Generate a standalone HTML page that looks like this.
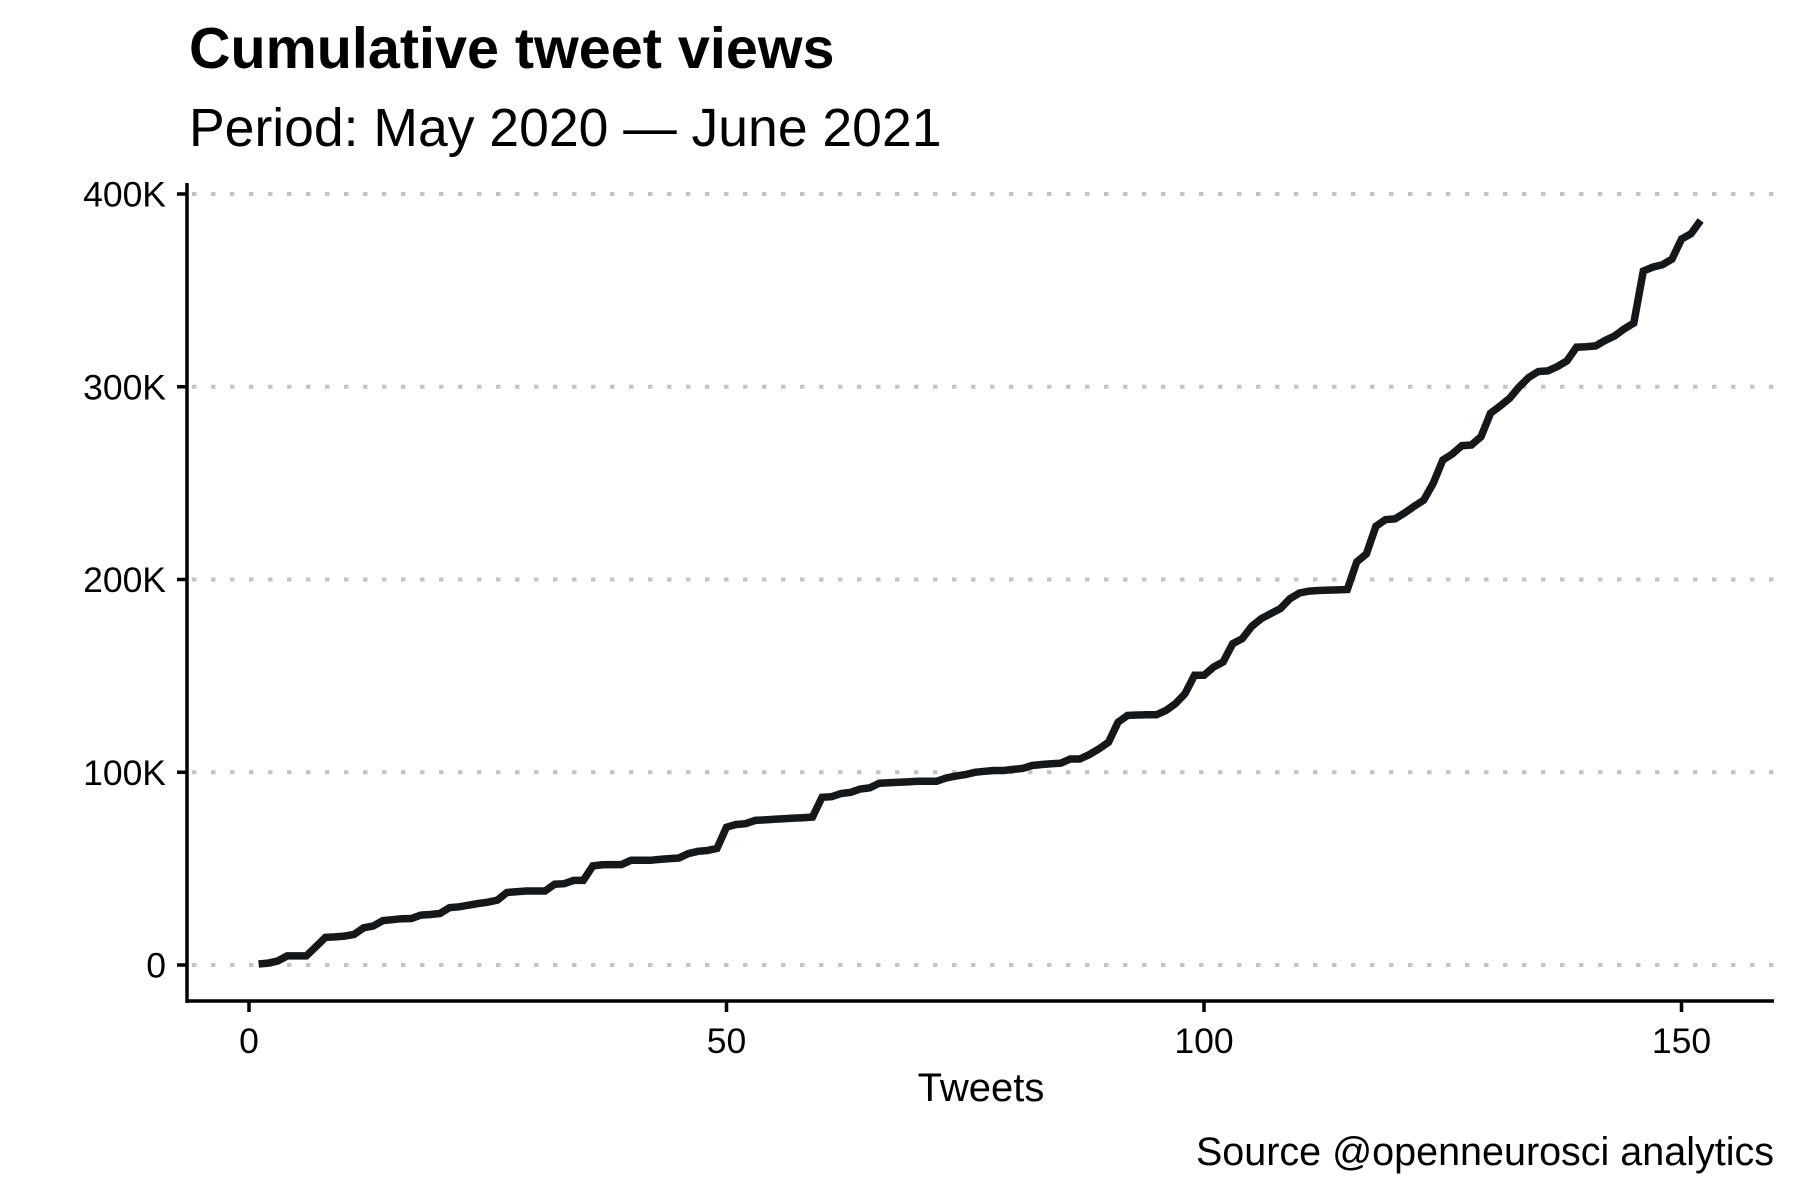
<!DOCTYPE html>
<html><head><meta charset="utf-8"><style>
html,body{margin:0;padding:0;background:#fff;}
svg{display:block;font-family:"Liberation Sans",Arial,sans-serif;}
</style></head><body>
<svg id="chart" width="1800" height="1200" viewBox="0 0 1800 1200" xmlns="http://www.w3.org/2000/svg">
<rect width="1800" height="1200" fill="#fff"/>
<text x="189" y="68" font-size="57.5" font-weight="bold" fill="#000">Cumulative tweet views</text>
<text x="189" y="146" font-size="53.5" fill="#000">Period: May 2020 — June 2021</text>
<g id="grid"></g>
<g id="axes"></g>
<g id="series"></g>
<text x="981" y="1101" font-size="40" text-anchor="middle" fill="#000">Tweets</text>
<text x="1774" y="1165" font-size="39.5" text-anchor="end" fill="#000">Source @openneurosci analytics</text>
</svg>
<script>
const yTicks = [0, 100, 200, 300, 400];
const yTickLabels = ["0", "100K", "200K", "300K", "400K"];
const xTicks = [0, 50, 100, 150];
const xTickLabels = ["0", "50", "100", "150"];
const views = [0.5,1,2,4.7,4.7,4.7,9.5,14.3,14.6,15,15.8,19.3,20.2,23,23.5,24,24.1,25.9,26.2,26.7,
29.8,30.2,31,31.9,32.6,33.6,37.6,38,38.4,38.4,38.4,41.9,42.2,43.9,43.9,51.4,52,52.1,52.1,54.3,
54.3,54.3,54.8,55.2,55.5,57.8,59,59.4,60.5,71.5,72.9,73.3,75,75.3,75.6,75.9,76.2,76.4,76.8,87,
87.3,89,89.6,91.3,91.9,94.3,94.6,94.8,95,95.3,95.3,95.3,97,98,98.8,100,100.5,100.9,100.9,101.5,
102,103.5,104,104.4,104.7,106.9,106.9,109.2,112.1,115.6,126,129.5,129.7,129.8,129.8,132,135.5,140.7,150.3,150.3,
154.6,157.2,166.7,169.3,175.7,179.7,182.3,184.9,190.1,193,194,194.3,194.5,194.6,194.8,209.2,213.3,227.6,231,231.5,
234.5,238,241.2,249.9,262,265.1,269.4,269.8,274.1,286.2,290,294,300,304.8,307.9,308.2,310.5,313.4,320.5,320.8,
321.2,324,326.4,330,333,360,362.1,363.3,366.2,376.6,379.4,386.3];

const NS = "http://www.w3.org/2000/svg";
function xScale(i){ return 249 + i * 9.55; }
function yScale(v){ return 965 - v * 1.9275; }
function mk(tag, attrs, parent){
  const el = document.createElementNS(NS, tag);
  for (const k in attrs) el.setAttribute(k, attrs[k]);
  parent.appendChild(el);
  return el;
}
const grid = document.getElementById('grid');
const axes = document.getElementById('axes');
const series = document.getElementById('series');

yTicks.forEach((t, k) => {
  const y = yScale(t);
  const gl = mk('line', {x1:192, x2:1774, y1:y, y2:y, stroke:'#c4c4c4', 'stroke-width':4, 'stroke-dasharray':'4.5 14.5'}, grid);
  
  
  const tk = mk('line', {x1:177, x2:187, y1:y, y2:y, stroke:'#000', 'stroke-width':3.5}, axes);
  
  
  const lb = mk('text', {x:166, y:y + 12.5, 'font-size':35.5, 'text-anchor':'end', fill:'#000'}, axes);
  lb.textContent = yTickLabels[k];
  
  
});
xTicks.forEach((t, k) => {
  const x = xScale(t);
  const tk = mk('line', {x1:x, x2:x, y1:1001, y2:1012, stroke:'#000', 'stroke-width':3.5}, axes);
  
  
  const lb = mk('text', {x:x, y:1053, 'font-size':35.5, 'text-anchor':'middle', fill:'#000'}, axes);
  lb.textContent = xTickLabels[k];
  
  
});
const ya = mk('line', {x1:187, x2:187, y1:183, y2:1003, stroke:'#000', 'stroke-width':3.5}, axes);


const xa = mk('line', {x1:185.5, x2:1774, y1:1001, y2:1001, stroke:'#000', 'stroke-width':3.5}, axes);



const pts = views.map((v, i) => xScale(i + 1).toFixed(1) + ',' + yScale(v).toFixed(1)).join(' ');
const line = mk('polyline', {points: pts, fill:'none', stroke:'#15181b', 'stroke-width':7.5, 'stroke-linejoin':'miter', 'stroke-miterlimit':3}, series);


</script>
</body></html>
